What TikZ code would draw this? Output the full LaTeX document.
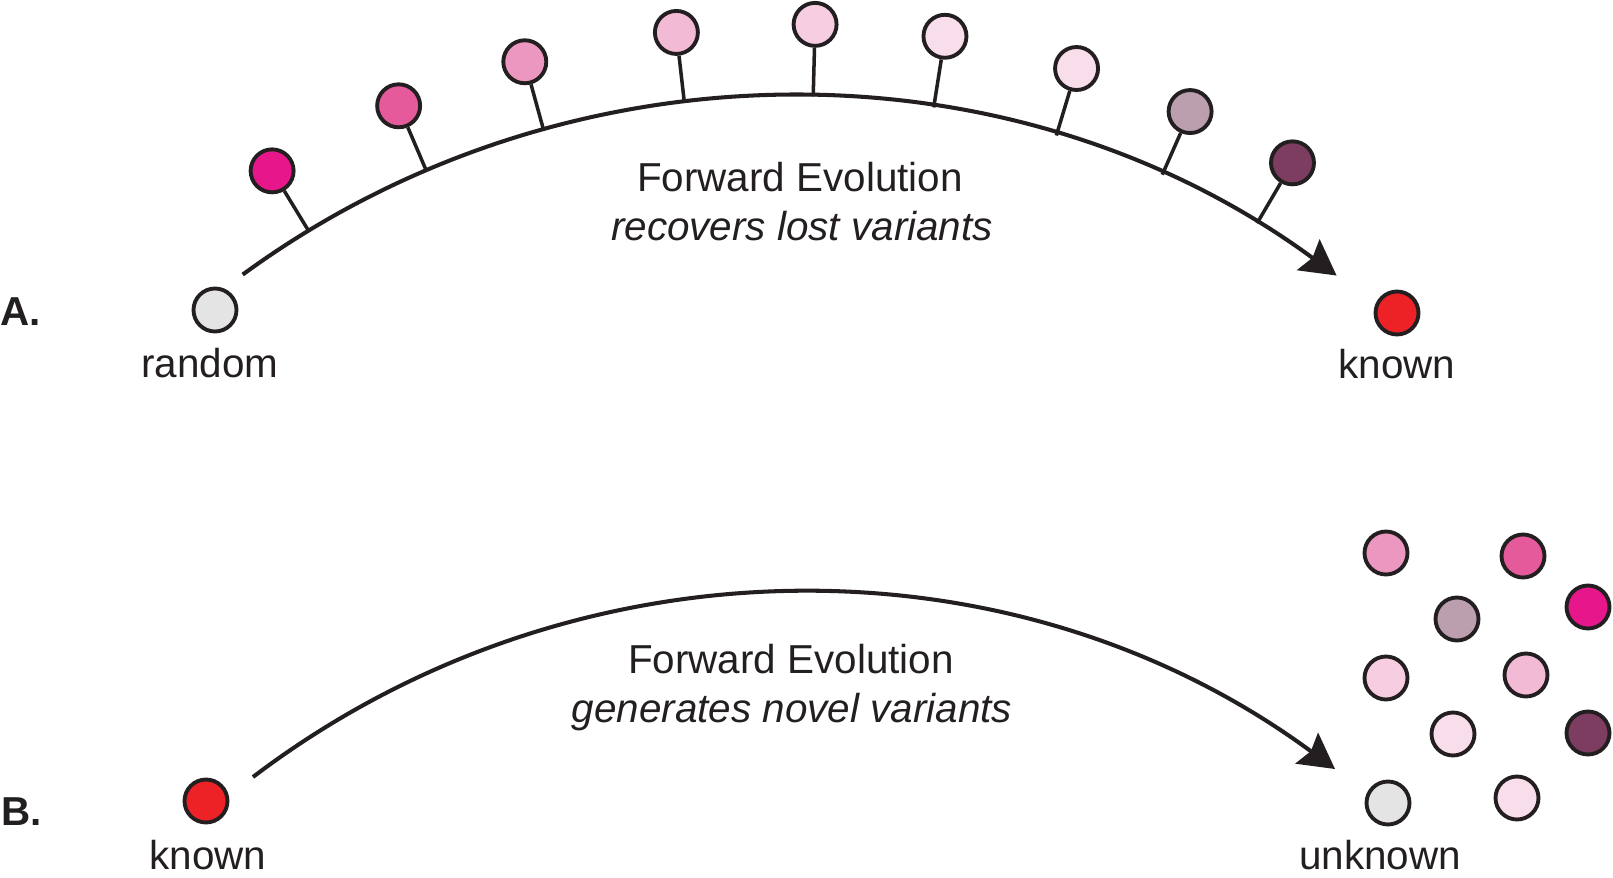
\documentclass[tikz,border=0pt]{standalone}
\usepackage{fontspec}
\setmainfont{Liberation Sans}
\usepackage{tikz}
\usetikzlibrary{arrows.meta}
\usetikzlibrary{calc}

\definecolor{ink}{HTML}{231F20}
\definecolor{cMag}{HTML}{E8168B}
\definecolor{cHot}{HTML}{E55A9B}
\definecolor{cMid}{HTML}{EC97C0}
\definecolor{cPink}{HTML}{F2BAD5}
\definecolor{cLight}{HTML}{F6CDE1}
\definecolor{cPale}{HTML}{F8DDEA}
\definecolor{cMauve}{HTML}{BB9FAF}
\definecolor{cPlum}{HTML}{7C3D61}
\definecolor{cRed}{HTML}{EC2227}
\definecolor{cGrey}{HTML}{E5E4E5}

\tikzset{
    var/.style={circle, draw=ink, line width=2.2pt, minimum size=0.86cm, inner sep=0pt},
    stem/.style={draw=ink, line width=2pt},
    evo/.style={draw=ink, line width=2.3pt, -{Stealth[length=0.7cm, width=0.76cm, inset=0.1cm]}},
    lbl/.style={text=ink, font=\fontsize{23}{28}\selectfont, anchor=base, inner sep=0pt},
}

\begin{document}
\begin{tikzpicture}[x=0.02cm, y=0.02cm]
    \useasboundingbox (0,0) rectangle (1613,877);

    % A: random -> known
    \node[lbl, anchor=base west, font=\fontsize{23}{28}\selectfont\bfseries] (labA) at (0,552) {A.};
    \node[var, fill=cGrey] (rnd) at (215,567) {};
    \node[lbl] (rndtxt) at (210,500) {random};
    \node[var, fill=cRed] (knA) at (1397,564) {};
    \node[lbl] (knAtxt) at (1397,499) {known};
    \node[lbl] (fwdA) at (800,685) {Forward Evolution};
    \node[lbl, font=\fontsize{23}{28}\selectfont\itshape] (subA) at (802,636) {recovers lost variants};

    \coordinate (ctrA) at (789,-144);
    \coordinate (aS) at ($(ctrA)+(126.2:925)$);
    \coordinate (aE) at ($(ctrA)+(53.7:925)$);
    \draw[evo] (aS) to[bend left=36.25, looseness=0.943] (aE);

    \node[var, fill=cMag]   (vA1) at ($(ctrA)+(121.3:995)$) {};  \coordinate (sA1) at ($(ctrA)+(121.3:925)$);
    \node[var, fill=cHot]   (vA2) at ($(ctrA)+(113.1:995)$) {};  \coordinate (sA2) at ($(ctrA)+(113.1:925)$);
    \node[var, fill=cMid]   (vA3) at ($(ctrA)+(105.4:995)$) {};  \coordinate (sA3) at ($(ctrA)+(105.4:925)$);
    \node[var, fill=cPink]  (vA4) at ($(ctrA)+(96.5:995)$) {};   \coordinate (sA4) at ($(ctrA)+(96.5:925)$);
    \node[var, fill=cLight] (vA5) at ($(ctrA)+(88.5:997)$) {};   \coordinate (sA5) at ($(ctrA)+(88.5:925)$);
    \node[var, fill=cPale]  (vA6) at ($(ctrA)+(81.0:997)$) {};   \coordinate (sA6) at ($(ctrA)+(81.0:925)$);
    \node[var, fill=cPale]  (vA7) at ($(ctrA)+(73.2:995)$) {};   \coordinate (sA7) at ($(ctrA)+(73.2:925)$);
    \node[var, fill=cMauve] (vA8) at ($(ctrA)+(66.2:994)$) {};   \coordinate (sA8) at ($(ctrA)+(66.2:925)$);
    \node[var, fill=cPlum]  (vA9) at ($(ctrA)+(59.6:995)$) {};   \coordinate (sA9) at ($(ctrA)+(59.6:925)$);
    \draw[stem] (vA1) -- (sA1) (vA2) -- (sA2) (vA3) -- (sA3) (vA4) -- (sA4) (vA5) -- (sA5)
        (vA6) -- (sA6) (vA7) -- (sA7) (vA8) -- (sA8) (vA9) -- (sA9);

    % B: known -> unknown
    \node[lbl, anchor=base west, font=\fontsize{23}{28}\selectfont\bfseries] (labB) at (1,52) {B.};
    \node[var, fill=cRed] (knB) at (206,76) {};
    \node[lbl] (knBtxt) at (208,8) {known};
    \node[lbl] (fwdB) at (791,204) {Forward Evolution};
    \node[lbl, font=\fontsize{23}{28}\selectfont\itshape] (subB) at (792,155) {generates novel variants};

    \coordinate (bS) at (253,100);
    \coordinate (bE) at (1335,108);
    \draw[evo] (bS) to[bend left=36.8, looseness=0.946] (bE);

    \node[var, fill=cMid]   (u1) at (1386,324) {};
    \node[var, fill=cHot]   (u2) at (1523,321) {};
    \node[var, fill=cMag]   (u3) at (1588,270) {};
    \node[var, fill=cMauve] (u4) at (1457,258) {};
    \node[var, fill=cLight] (u5) at (1386,199) {};
    \node[var, fill=cPink]  (u6) at (1526,202) {};
    \node[var, fill=cPale]  (u7) at (1453,143) {};
    \node[var, fill=cPlum]  (u8) at (1588,144) {};
    \node[var, fill=cGrey]  (u9) at (1388,74) {};
    \node[var, fill=cPale]  (u10) at (1517,79) {};
    \node[lbl] (unkn) at (1380,8) {unknown};
\end{tikzpicture}
\end{document}
